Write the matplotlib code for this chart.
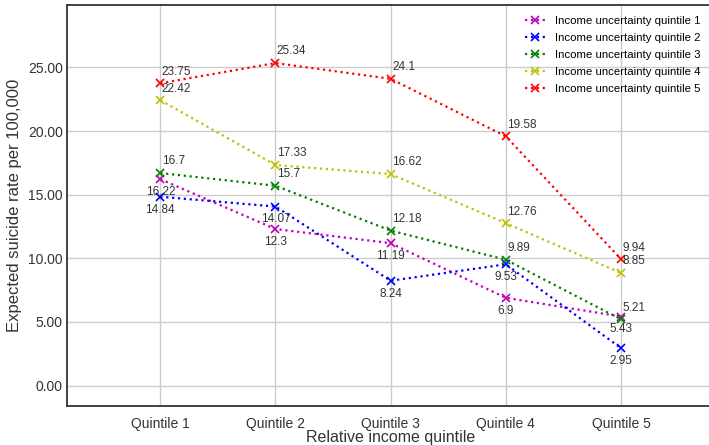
import numpy as np
import matplotlib
matplotlib.use("Agg")
import matplotlib.pyplot as plt

plt.rcParams['font.family'] = ['Liberation Sans', 'DejaVu Sans']

categories = ['Quintile 1', 'Quintile 2', 'Quintile 3', 'Quintile 4', 'Quintile 5']
q1 = [16.22, 12.3, 11.19, 6.9, 5.43]
q2 = [14.84, 14.07, 8.24, 9.53, 2.95]
q3 = [16.7, 15.7, 12.18, 9.89, 5.21]
q4 = [22.42, 17.33, 16.62, 12.76, 8.85]
q5 = [23.75, 25.34, 24.1, 19.58, 9.94]
series = [q1, q2, q3, q4, q5]
names = ['Income uncertainty quintile %d' % i for i in range(1, 6)]
colors = ['m', 'b', 'g', 'y', 'r']
below = [True, True, False, False, False]

fig = plt.figure(figsize=(7.09, 4.45), dpi=100)
ax = fig.add_axes([0.0945, 0.0876, 0.913, 0.9012])
x = np.arange(len(categories))

for vals, name, c, b in zip(series, names, colors, below):
    ax.plot(x, vals, ls=':', marker='x', color=c, lw=1.6, ms=6, mew=1.2, label=name)
    for xi, v in zip(x, vals):
        if b:
            ax.annotate(str(v), (xi, v), textcoords='offset points', xytext=(0, -5),
                        ha='center', va='top', fontsize=8.5, color='#333333')
        else:
            ax.annotate(str(v), (xi, v), textcoords='offset points', xytext=(1, 4),
                        ha='left', va='bottom', fontsize=8.5, color='#333333')

ax.set_xticks(x)
ax.set_xticklabels(categories, fontsize=10)
ax.set_yticks(np.arange(0, 30, 5))
ax.set_yticklabels(['%.2f' % t for t in np.arange(0, 30, 5)], fontsize=10)
ax.set_xlim(-0.81, 4.81)
ax.set_ylim(-1.6, 29.9)
ax.grid(True, color='#cccccc', lw=1)
ax.set_axisbelow(True)
ax.tick_params(axis='y', length=0, pad=3, colors='#333333')
ax.tick_params(axis='x', length=0, pad=8, colors='#333333')
for s in ax.spines.values():
    s.set_color('#333333')
    s.set_linewidth(1.3)

ax.set_xlabel('Relative income quintile', fontsize=11.5, color='#333333', labelpad=-1)
ax.set_ylabel('Expected suicide rate per 100,000', fontsize=12, color='#333333', labelpad=4)
# title sits above the visible area, only its descenders show at the top edge
ax.set_title('Expected suicide rate by relative income and income uncertainty quintile',
             fontsize=12, pad=11)
ax.legend(loc='upper right', bbox_to_anchor=(0.996, 1.0), frameon=False, fontsize=8.2,
          handlelength=1.75, handletextpad=0.9, labelspacing=0.6, borderaxespad=0.6)

plt.savefig('out.png', dpi=100)
